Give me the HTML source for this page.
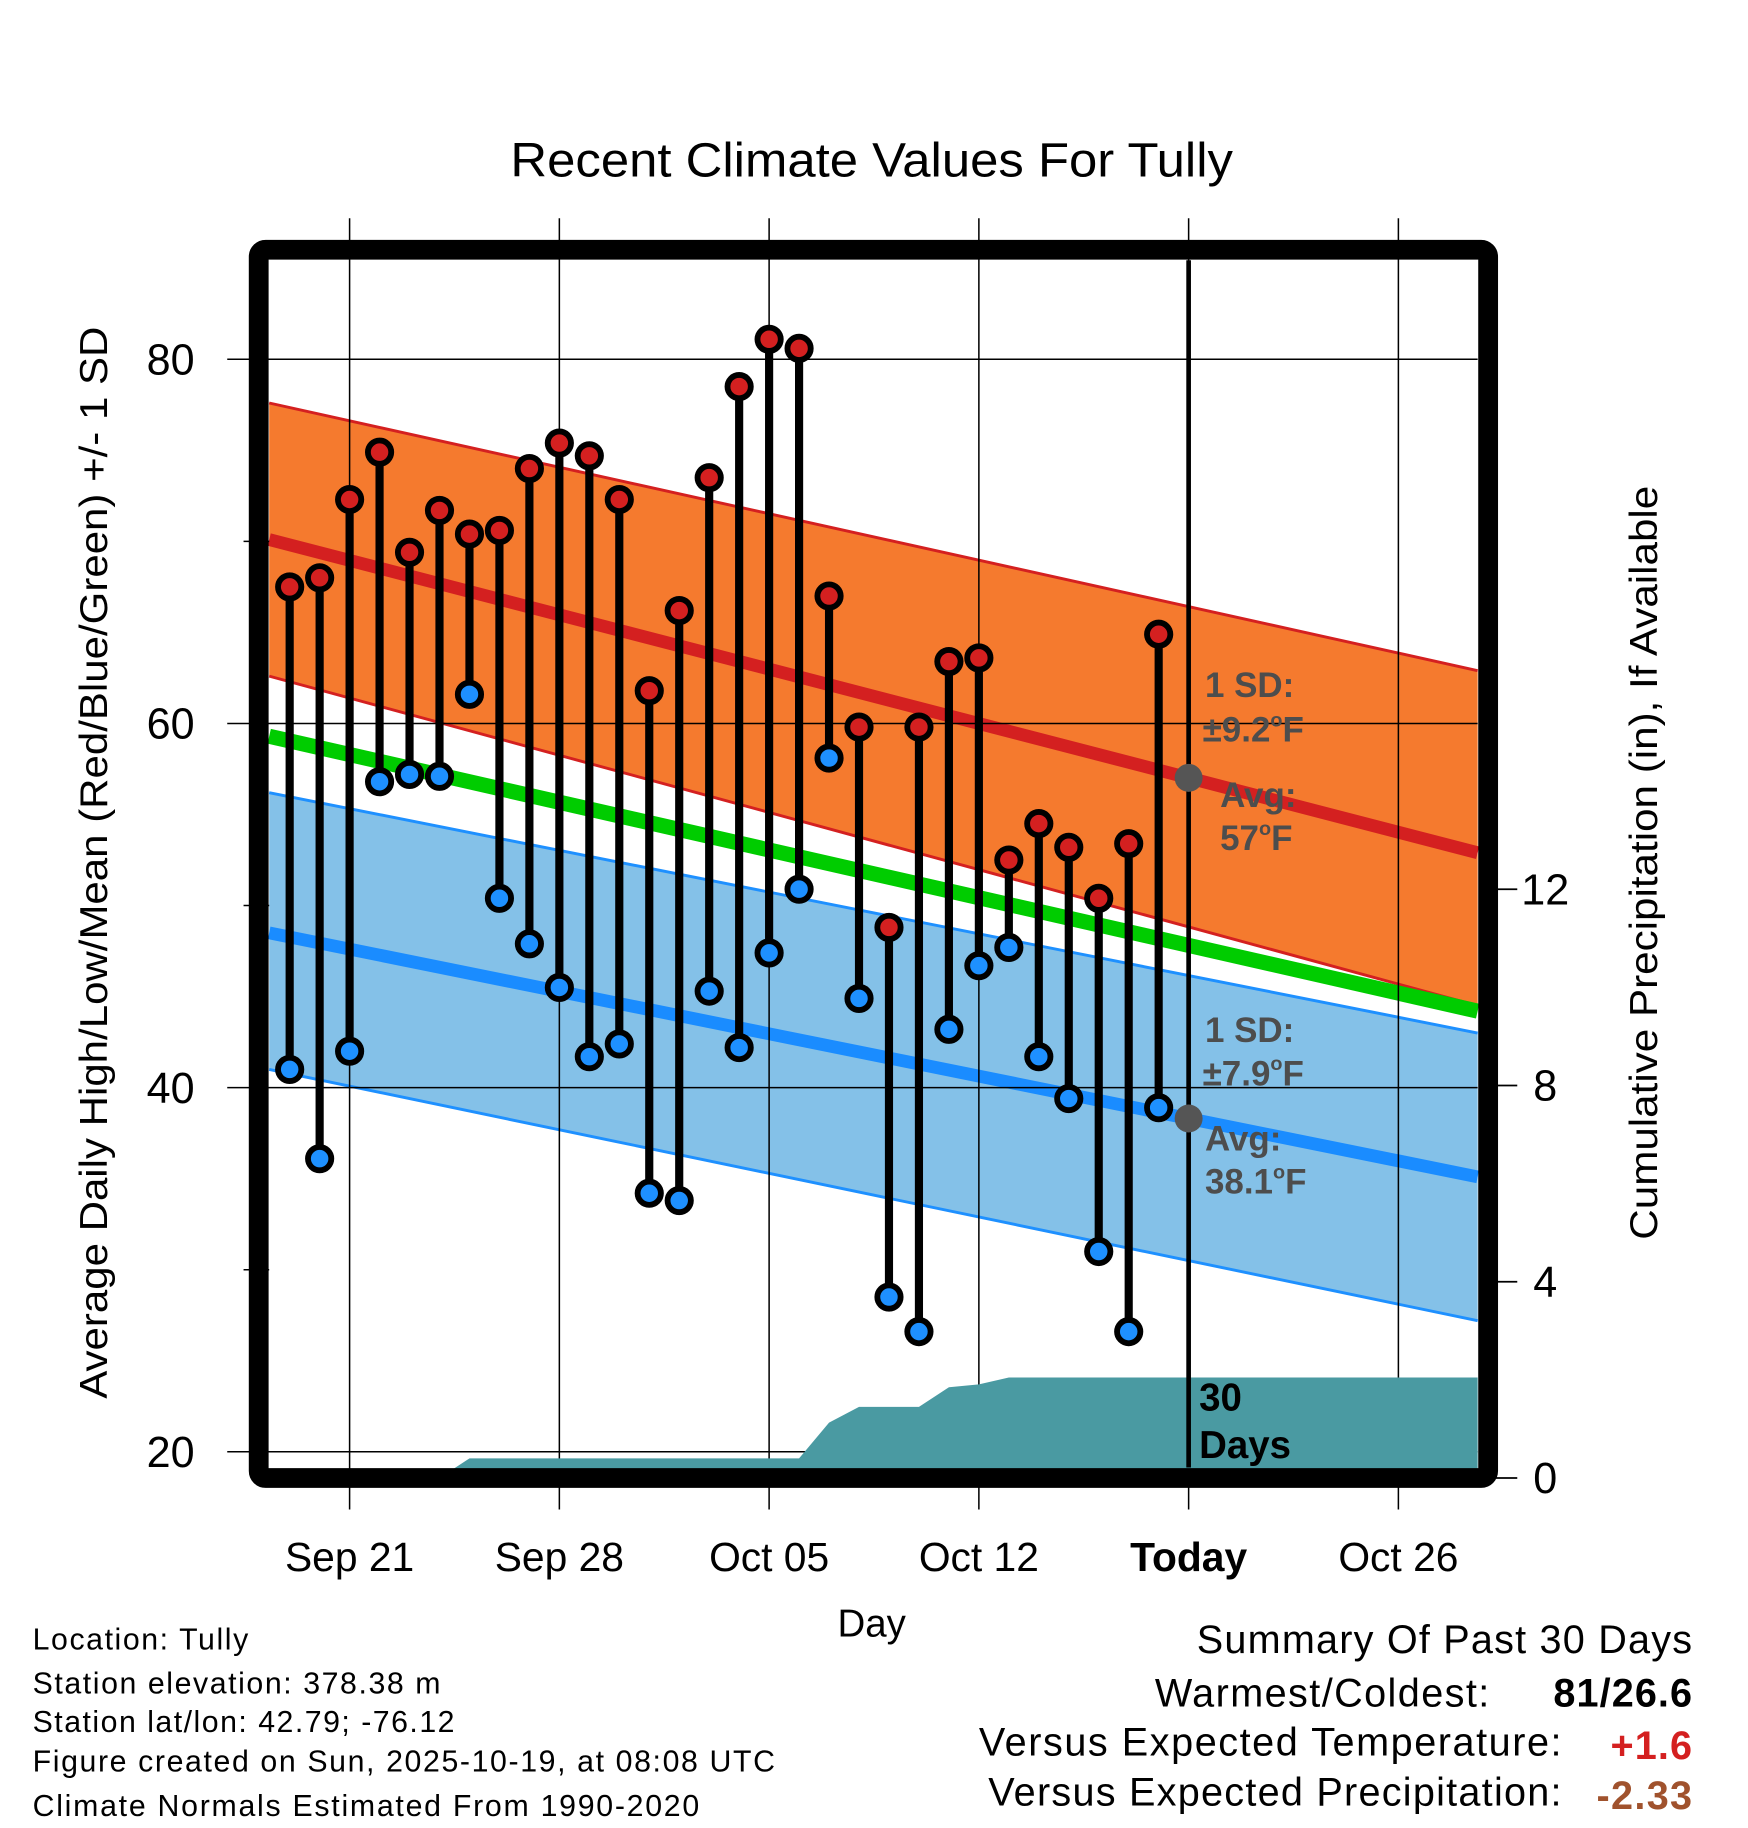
<!DOCTYPE html>
<html><head><meta charset="utf-8"><style>
html,body{margin:0;padding:0;background:#fff}
svg{display:block;font-family:"Liberation Sans",sans-serif}
</style></head><body>
<svg id="chart" width="1748" height="1828" viewBox="0 0 1500 1568" xmlns="http://www.w3.org/2000/svg">
<text x="748" y="151" font-size="41" text-anchor="middle" textLength="620" lengthAdjust="spacingAndGlyphs">Recent Climate Values For Tully</text>
<g id="bands"></g>
<g id="grid"></g>
<g id="precip"></g>
<g id="stems"></g>
<g id="ann" font-weight="bold" font-size="30" fill="#4d4d4d">
<text x="1034" y="598">1 SD:</text>
<text x="1032" y="636">±9.2<tspan font-size="17" dy="-13">o</tspan><tspan dy="13">F</tspan></text>
<text x="1047" y="692">Avg:</text>
<text x="1047" y="729">57<tspan font-size="17" dy="-13">o</tspan><tspan dy="13">F</tspan></text>
<text x="1034" y="894">1 SD:</text>
<text x="1032" y="931">±7.9<tspan font-size="17" dy="-13">o</tspan><tspan dy="13">F</tspan></text>
<text x="1034" y="987">Avg:</text>
<text x="1034" y="1024">38.1<tspan font-size="17" dy="-13">o</tspan><tspan dy="13">F</tspan></text>
<text x="1029" y="1210" fill="#000" font-size="33">30</text>
<text x="1029" y="1251" fill="#000" font-size="33">Days</text>
</g>
<rect x="222" y="214" width="1055" height="1054" rx="6" fill="none" stroke="#000" stroke-width="17"/>
<text transform="translate(92,740) rotate(-90)" font-size="33" text-anchor="middle" textLength="920" lengthAdjust="spacingAndGlyphs">Average Daily High/Low/Mean (Red/Blue/Green) +/- 1 SD</text>
<text transform="translate(1422,740) rotate(-90)" font-size="33" text-anchor="middle" textLength="647" lengthAdjust="spacingAndGlyphs">Cumulative Precipitation (in), If Available</text>
<text x="748" y="1404" font-size="33" text-anchor="middle">Day</text>
<g font-size="26" lengthAdjust="spacingAndGlyphs">
<text x="28" y="1415" textLength="185">Location: Tully</text>
<text x="28" y="1453" textLength="350">Station elevation: 378.38 m</text>
<text x="28" y="1486" textLength="362">Station lat/lon: 42.79; -76.12</text>
<text x="28" y="1520" textLength="637">Figure created on Sun, 2025-10-19, at 08:08 UTC</text>
<text x="28" y="1558" textLength="572">Climate Normals Estimated From 1990-2020</text>
</g>
<g font-size="34" text-anchor="end">
<text x="1452" y="1418" textLength="425">Summary Of Past 30 Days</text>
<text x="1278" y="1464" textLength="287">Warmest/Coldest:</text>
<text x="1452" y="1464" font-weight="bold" textLength="119">81/26.6</text>
<text x="1340" y="1506" textLength="500">Versus Expected Temperature:</text>
<text x="1452" y="1509" font-weight="bold" fill="#d42020" textLength="70">+1.6</text>
<text x="1340" y="1549" textLength="492">Versus Expected Precipitation:</text>
<text x="1452" y="1552" font-weight="bold" fill="#a0522d" textLength="82">-2.33</text>
</g>
</svg>
<script>
// day index: 0 = Sep 19
const highs = [67.5,68.0,72.3,74.9,69.4,71.7,70.4,70.6,74.0,75.4,74.7,72.3,61.8,66.2,73.5,78.5,81.1,80.6,67.0,59.8,48.8,59.8,63.4,63.6,52.5,54.5,53.2,50.4,53.4,64.9];
const lows = [41.0,36.1,42.0,56.8,57.2,57.1,61.6,50.4,47.9,45.5,41.7,42.4,34.2,33.8,45.3,42.2,47.4,50.9,58.1,44.9,28.5,26.6,43.2,46.7,47.7,41.7,39.4,31.0,26.6,38.9];
const precip = [0,0,0,0,0,0,0.4,0.4,0.4,0.4,0.4,0.4,0.4,0.4,0.4,0.4,0.4,0.4,1.13,1.45,1.45,1.45,1.85,1.91,2.05,2.05,2.05,2.05,2.05,2.05];
// normals at axis start and end
const normalHigh = [70.1,52.9];
const normalHighUpper = [77.6,62.9];
const normalHighLower = [62.6,44.5];
const normalLow = [48.5,35.1];
const normalLowUpper = [56.2,43.0];
const normalLowLower = [41.0,27.2];
const normalMean = [59.3,44.2];
const xTickDays = [2,9,16,23,30,37];
const xTickLabels = ["Sep 21","Sep 28","Oct 05","Oct 12","Today","Oct 26"];
const yTicks = [20,40,60,80];
const yMinor = [30,50,70];
const y2Ticks = [0,4,8,12];
const todayDay = 30;

const L=231,R=1268,T=223,B=1259;
const x = d => 300 + (d-2)*25.714;
const y = t => 308 + (80-t)*15.625;
const y2 = p => 1268 - p*42.1;
const NS='http://www.w3.org/2000/svg';
function mk(parent,tag,attrs){const e=document.createElementNS(NS,tag);for(const k in attrs)e.setAttribute(k,attrs[k]);parent.appendChild(e);return e;}

const bands=document.getElementById('bands');
function band(up,lo,fill,edge,name){
  let e=mk(bands,'polygon',{points:`${L},${y(up[0])} ${R},${y(up[1])} ${R},${y(lo[1])} ${L},${y(lo[0])}`,fill:fill});
  
  
  [up,lo].forEach(a=>{let l=mk(bands,'line',{x1:L,y1:y(a[0]),x2:R,y2:y(a[1]),stroke:edge,'stroke-width':2.5});
    
    });
}
band(normalLowUpper,normalLowLower,'#84c1e8','#1e90ff','low-sd-band');
band(normalHighUpper,normalHighLower,'#f57a2e','#d42020','high-sd-band');
function nline(a,color,w,name){let l=mk(bands,'line',{x1:L,y1:y(a[0]),x2:R,y2:y(a[1]),stroke:color,'stroke-width':w});
  
  }
nline(normalMean,'#00cc00',13,'normal-mean-line');
nline(normalHigh,'#d42020',11,'normal-high-line');
nline(normalLow,'#1a8cff',11,'normal-low-line');

const grid=document.getElementById('grid');
const svg=document.getElementById('chart');
xTickDays.forEach((d,i)=>{
  let l=mk(grid,'line',{x1:x(d),y1:187,x2:x(d),y2:1295,stroke:'#000','stroke-width':1.3});
  
  
  let t=mk(svg,'text',{x:x(d),y:1348,'font-size':35,'text-anchor':'middle'});
  t.textContent=xTickLabels[i];
  if(d===todayDay)t.setAttribute('font-weight','bold');
  
  
});
yTicks.forEach(v=>{
  let l=mk(grid,'line',{x1:195,y1:y(v),x2:R,y2:y(v),stroke:'#000','stroke-width':1.3});
  
  
  let t=mk(svg,'text',{x:167,y:y(v)+13,'font-size':37,'text-anchor':'end'});
  t.textContent=v;
  
  
});
yMinor.forEach(v=>{
  let l=mk(grid,'line',{x1:209,y1:y(v),x2:L,y2:y(v),stroke:'#000','stroke-width':1.3});
  
  
});
y2Ticks.forEach(v=>{
  let l=mk(svg,'line',{x1:1277,y1:y2(v),x2:1302,y2:y2(v),stroke:'#000','stroke-width':1.5});
  
  
  let t=mk(svg,'text',{x:1326,y:y2(v)+13,'font-size':37,'text-anchor':'middle'});
  t.textContent=v;
  
  
});

const pg=document.getElementById('precip');
let pts=[`${x(0)},${y2(0)}`];
precip.forEach((p,i)=>pts.push(`${x(i)},${y2(p)}`));
pts.push(`${R},${y2(precip[precip.length-1])}`,`${R},${y2(0)}`);
let pa=mk(pg,'polygon',{points:pts.join(' '),fill:'#4a9aa2'});



let tl=mk(pg,'line',{x1:x(todayDay),y1:T,x2:x(todayDay),y2:B,stroke:'#000','stroke-width':4});


[[normalHigh,'today-high-normal-dot'],[normalLow,'today-low-normal-dot']].forEach(([a,n])=>{
  const f=(x(todayDay)-L)/(R-L);
  let c=mk(pg,'circle',{cx:x(todayDay),cy:y(a[0]+(a[1]-a[0])*f),r:12,fill:'#555'});
  
  
});

const sg=document.getElementById('stems');
highs.forEach((h,i)=>{
  let s=mk(sg,'line',{x1:x(i),y1:y(h),x2:x(i),y2:y(lows[i]),stroke:'#000','stroke-width':7});
  
  
});
highs.forEach((h,i)=>{
  let c=mk(sg,'circle',{cx:x(i),cy:y(h),r:10,fill:'#d42020',stroke:'#000','stroke-width':5});
  
  
  let c2=mk(sg,'circle',{cx:x(i),cy:y(lows[i]),r:10,fill:'#1e90ff',stroke:'#000','stroke-width':5});
  
  
});
</script>
</body></html>
